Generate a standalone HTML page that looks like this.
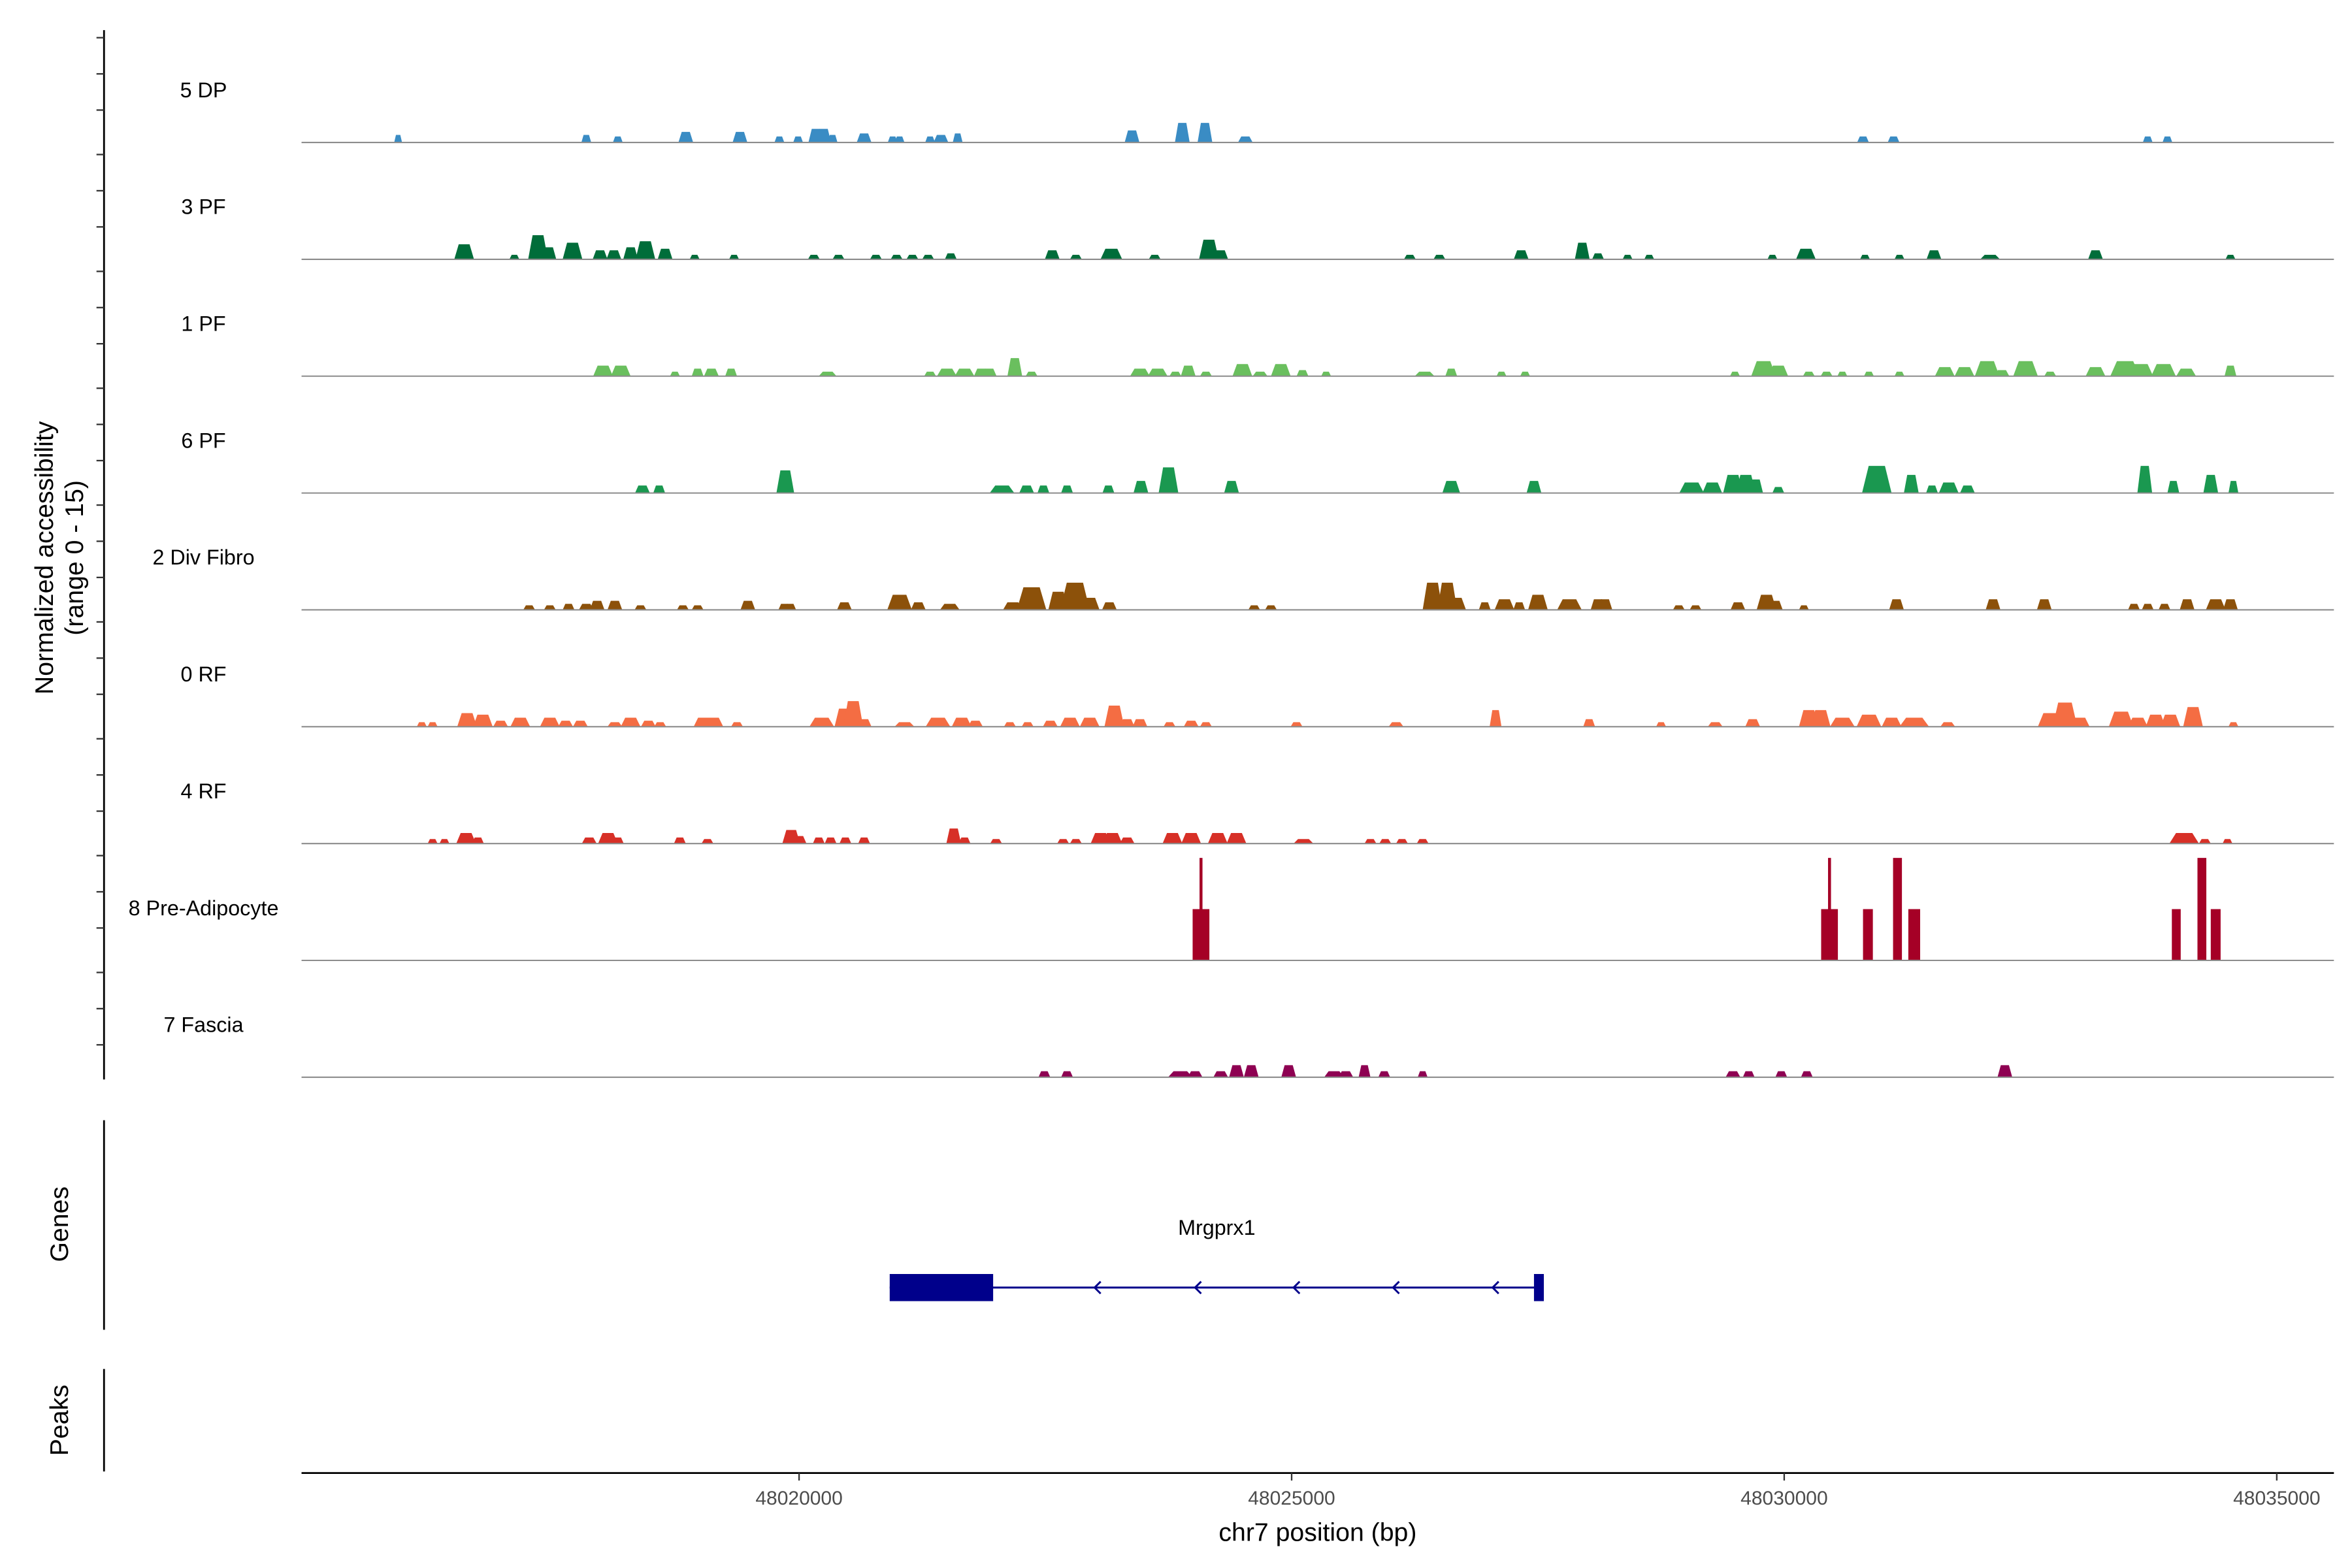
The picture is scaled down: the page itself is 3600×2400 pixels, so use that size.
<!DOCTYPE html>
<html><head><meta charset="utf-8"><style>
html,body{margin:0;padding:0;background:#fff;}
svg{display:block;font-family:"Liberation Sans",Arial,sans-serif;}
</style></head><body>
<svg id="chart" width="3600" height="2400" viewBox="0 0 1560 1040" xmlns="http://www.w3.org/2000/svg">
<g id="tracks"></g>
<g id="axes"></g>
<g id="genes"></g>
</svg>
<script>
// genomic positions in kb offset from chromOffsetKb; heights in normalized accessibility units (0-15)
const chromOffsetKb = 48000;
const trackNames = ["5 DP","3 PF","1 PF","6 PF","2 Div Fibro","0 RF","4 RF","8 Pre-Adipocyte","7 Fascia"];
const trackColors = ["#3a8cc4","#006d3a","#6abf5e","#1a9850","#8c510a","#f46d43","#d73027","#a50026","#8e0152"];
const trackTopRatio = [0.55,0.55,0.55,0.55,0.55,0.55,0.55,1,0.55];
const xTicks = [48020000,48025000,48030000,48035000];
const dp = [[15.93,.08,1],[17.84,.1,1],[18.16,.1,.8],[18.85,.15,1.4],[19.40,.15,1.4],[19.80,.1,.8],[19.99,.1,.8],[20.17,.15,1.8],[20.25,.15,1.8],[20.34,.1,1],[20.66,.15,1.2],[20.95,.1,.8],[21.02,.1,.8],[21.33,.1,.8],[21.44,.15,1],[21.61,.1,1.2],[23.38,.15,1.6],[23.89,.15,2.6],[24.12,.15,2.6],[24.53,.15,.8],[30.80,.12,.8],[31.11,.12,.8],[33.69,.1,.8],[33.89,.1,.8]];
const pf3 = [[16.60,.2,2],[17.11,.1,.6],[17.35,.2,3.2],[17.46,.15,1.6],[17.70,.2,2.2],[17.98,.15,1.2],[18.12,.15,1.2],[18.29,.15,1.6],[18.44,.2,2.4],[18.64,.15,1.4],[18.94,.1,.6],[19.34,.1,.6],[20.15,.12,.6],[20.40,.12,.6],[20.78,.12,.6],[20.99,.12,.6],[21.15,.12,.6],[21.31,.12,.6],[21.54,.12,.8],[22.57,.15,1.2],[22.81,.12,.6],[23.17,.22,1.4],[23.61,.12,.6],[24.16,.2,2.6],[24.28,.15,1.2],[26.20,.12,.6],[26.50,.12,.6],[27.33,.15,1.2],[27.95,.15,2.2],[28.11,.12,.8],[28.41,.1,.6],[28.63,.1,.6],[29.88,.1,.6],[30.22,.2,1.4],[30.82,.1,.6],[31.17,.1,.6],[31.52,.15,1.2],[32.09,.2,.6],[33.16,.15,1.2],[34.53,.1,.6]];
const pf1 = [[18.01,.2,1.4],[18.19,.2,1.4],[18.74,.1,.6],[18.97,.12,1],[19.11,.15,1],[19.31,.12,1],[20.29,.18,.6],[21.33,.12,.6],[21.50,.2,1],[21.68,.2,1],[21.85,.15,1],[21.93,.15,1],[22.19,.15,2.4],[22.36,.12,.6],[23.46,.2,1],[23.64,.2,1],[23.82,.12,.6],[23.95,.15,1.4],[24.13,.12,.6],[24.50,.2,1.6],[24.68,.15,.6],[24.89,.2,1.6],[25.11,.12,.8],[25.35,.1,.6],[26.35,.2,.6],[26.62,.12,1],[27.13,.1,.6],[27.37,.1,.6],[29.50,.1,.6],[29.79,.25,2],[29.94,.2,1.4],[30.25,.12,.6],[30.43,.12,.6],[30.59,.1,.6],[30.86,.1,.6],[31.17,.1,.6],[31.63,.2,1.2],[31.83,.2,1.2],[32.06,.25,2],[32.21,.15,.8],[32.45,.25,2],[32.70,.12,.6],[33.16,.2,1.2],[33.46,.3,2],[33.62,.25,1.6],[33.85,.25,1.6],[34.08,.2,1],[34.53,.12,1.4]];
const pf6 = [[18.41,.15,1],[18.58,.12,1],[19.86,.18,3],[22.06,.25,1],[22.31,.15,1],[22.48,.12,1],[22.72,.12,1],[23.14,.12,1],[23.47,.15,1.6],[23.75,.2,3.4],[24.39,.15,1.6],[26.62,.18,1.6],[27.46,.15,1.6],[29.06,.25,1.4],[29.27,.2,1.4],[29.48,.2,2.4],[29.61,.2,2.4],[29.71,.15,1.8],[29.94,.12,.8],[30.94,.3,3.6],[31.29,.15,2.4],[31.50,.12,1],[31.67,.2,1.4],[31.86,.15,1],[33.66,.15,3.6],[33.95,.12,1.6],[34.33,.15,2.4],[34.56,.1,1.6]];
const divfibro = [[17.26,.12,.6],[17.47,.12,.6],[17.66,.12,.8],[17.84,.15,.8],[17.95,.15,1.2],[18.13,.15,1.2],[18.39,.12,.6],[18.82,.12,.6],[18.97,.12,.6],[19.48,.15,1.2],[19.85,.12,.8],[19.91,.12,.8],[20.46,.15,1],[21.02,.25,2],[21.21,.15,1],[21.53,.2,.8],[22.17,.2,1],[22.36,.3,3],[22.63,.2,2.4],[22.80,.3,3.6],[22.95,.2,1.6],[23.15,.15,1],[24.62,.12,.6],[24.79,.12,.6],[26.43,.2,3.6],[26.58,.2,3.6],[26.67,.2,1.6],[26.96,.12,1],[27.16,.2,1.4],[27.31,.12,1],[27.50,.2,2],[27.82,.25,1.4],[28.11,.15,1.4],[28.18,.15,1.4],[28.93,.12,.6],[29.10,.12,.6],[29.53,.15,1],[29.82,.2,2],[29.91,.15,1.2],[30.20,.1,.6],[31.14,.15,1.4],[32.12,.15,1.4],[32.64,.15,1.4],[33.55,.12,.8],[33.69,.12,.8],[33.86,.12,.8],[34.09,.15,1.4],[34.38,.2,1.4],[34.53,.15,1.4]];
const rf0 = [[16.17,.1,.6],[16.28,.1,.6],[16.63,.2,1.8],[16.79,.2,1.6],[16.97,.15,.8],[17.17,.2,1.2],[17.47,.2,1.2],[17.63,.15,.8],[17.78,.15,.8],[18.13,.15,.6],[18.29,.2,1.2],[18.47,.15,.8],[18.59,.12,.6],[19.03,.2,1.2],[19.13,.2,1.2],[19.37,.12,.6],[20.23,.25,1.2],[20.46,.2,2.4],[20.55,.2,3.4],[20.66,.15,1],[21.07,.2,.6],[21.41,.25,1.2],[21.65,.2,1.2],[21.79,.15,.8],[22.14,.12,.6],[22.32,.12,.6],[22.55,.15,.8],[22.75,.2,1.2],[22.95,.2,1.2],[23.20,.2,2.8],[23.33,.15,1],[23.46,.15,1],[23.76,.12,.6],[23.98,.15,.8],[24.13,.12,.6],[25.05,.12,.6],[26.06,.15,.6],[27.07,.12,2.2],[28.02,.12,1],[28.75,.1,.6],[29.30,.15,.6],[29.68,.15,1],[30.25,.2,2.2],[30.37,.2,2.2],[30.59,.25,1.2],[30.86,.25,1.6],[31.09,.2,1.2],[31.32,.3,1.2],[31.66,.15,.6],[32.70,.25,1.8],[32.85,.25,3.2],[33.00,.2,1.2],[33.42,.25,2],[33.59,.2,1.2],[33.77,.2,1.6],[33.92,.2,1.6],[34.15,.2,2.6],[34.56,.1,.6]];
const rf4 = [[16.28,.1,.6],[16.40,.1,.6],[16.62,.2,1.4],[16.74,.12,.8],[17.87,.15,.8],[18.06,.2,1.4],[18.16,.12,.8],[18.79,.12,.8],[19.07,.12,.6],[19.92,.18,1.8],[20.00,.15,1],[20.20,.12,.8],[20.32,.12,.8],[20.47,.12,.8],[20.66,.12,.8],[21.57,.15,2],[21.68,.12,.8],[22.00,.12,.6],[22.68,.12,.6],[22.81,.12,.6],[23.06,.2,1.4],[23.18,.2,1.4],[23.33,.15,.8],[23.79,.2,1.4],[23.98,.2,1.4],[24.25,.2,1.4],[24.44,.2,1.4],[25.12,.2,.6],[25.80,.12,.6],[25.95,.12,.6],[26.12,.12,.6],[26.33,.12,.6],[34.06,.3,1.4],[34.27,.12,.6],[34.50,.1,.6]];
const preadipo = [[24.08,.17,6.8],[24.08,.03,13.6],[30.46,.17,6.8],[30.46,.03,13.6],[30.85,.1,6.8],[31.15,.09,13.6],[31.32,.12,6.8],[33.98,.09,6.8],[34.24,.09,13.6],[34.38,.1,6.8]];
const fascia = [[22.49,.12,.8],[22.72,.12,.8],[23.87,.25,.8],[24.02,.15,.8],[24.28,.15,.8],[24.44,.15,1.6],[24.59,.15,1.6],[24.97,.15,1.6],[25.43,.2,.8],[25.55,.15,.8],[25.74,.12,1.6],[25.94,.12,.8],[26.33,.1,.8],[29.48,.15,.8],[29.64,.12,.8],[29.97,.12,.8],[30.23,.12,.8],[32.24,.15,1.6]];
const trackData = [dp,pf3,pf1,pf6,divfibro,rf0,rf4,preadipo,fascia];
const geneName = "Mrgprx1";
const geneStartKb = 20.92, geneEndKb = 27.56;
const geneExons = [[20.92,21.97],[27.46,27.56]];
const geneArrows = [23.00,24.02,25.02,26.03,27.04];

const NS="http://www.w3.org/2000/svg";
function mk(tag,attrs,parent){const e=document.createElementNS(NS,tag);for(const k in attrs)e.setAttribute(k,attrs[k]);parent.appendChild(e);return e;}
const xMin=200,xMax=1548;
function xScale(bp){return 530+(bp-48020000)*(326.7/5000);}
function xKb(kb){return xScale((chromOffsetKb+kb)*1000);}
const trackTop=17, trackH=77.5, unitPx=5;
function base(i){return trackTop+trackH*(i+1);}
function yScale(i,h){return base(i)-h*unitPx;}

const tracks=document.getElementById('tracks');
trackNames.forEach((name,i)=>{
  const g=mk('g',{},tracks);
  
  
  const lab=mk('text',{x:135,y:base(i)-30,'text-anchor':'middle','font-size':14,fill:'#000'},g);
  lab.textContent=name;
  
  
  trackData[i].forEach(p=>{
    const c=xKb(p[0]), w=(p[1]*1000)*(326.7/5000), y0=base(i), y1=yScale(i,p[2]);
    const tw=w*trackTopRatio[i];
    const poly=mk('polygon',{points:`${c-w/2},${y0} ${c-tw/2},${y1} ${c+tw/2},${y1} ${c+w/2},${y0}`,fill:trackColors[i]},g);
    
    
  });
  const bl=mk('line',{x1:xMin,x2:xMax,y1:base(i),y2:base(i),stroke:'#8c8c8c','stroke-width':0.9},g);
  
  
});

const axes=document.getElementById('axes');
const yl=mk('line',{x1:69,x2:69,y1:20,y2:716,stroke:'#000','stroke-width':1.2},axes);


for(let i=0;i<9;i++){
  for(let k=0;k<3;k++){
    const y=trackTop+trackH*i+8+k*24;
    const t=mk('line',{x1:64,x2:69,y1:y,y2:y,stroke:'#333','stroke-width':1},axes);
    
    
  }
}
const yt=mk('text',{transform:'translate(35,370) rotate(-90)','text-anchor':'middle','font-size':17},axes);


yt.innerHTML='<tspan x="0" dy="0">Normalized accessibility</tspan><tspan x="0" dy="20">(range 0 - 15)</tspan>';
const gl=mk('line',{x1:69,x2:69,y1:743,y2:882,stroke:'#000','stroke-width':1.2},axes);


const gt=mk('text',{transform:'translate(45,812) rotate(-90)','text-anchor':'middle','font-size':17},axes);
gt.textContent='Genes';


const pl=mk('line',{x1:69,x2:69,y1:908,y2:976,stroke:'#000','stroke-width':1.2},axes);


const pt=mk('text',{transform:'translate(45,942) rotate(-90)','text-anchor':'middle','font-size':17},axes);
pt.textContent='Peaks';


const xl=mk('line',{x1:xMin,x2:xMax,y1:977,y2:977,stroke:'#000','stroke-width':1.2},axes);


xTicks.forEach(v=>{
  const x=xScale(v);
  const t=mk('line',{x1:x,x2:x,y1:977,y2:982,stroke:'#333','stroke-width':1},axes);
  
  
  const l=mk('text',{x:x,y:998,'text-anchor':'middle','font-size':13,fill:'#4d4d4d'},axes);
  l.textContent=String(v);
  
  
});
const xt=mk('text',{x:874,y:1022,'text-anchor':'middle','font-size':17},axes);
xt.textContent='chr7 position (bp)';



const genes=document.getElementById('genes');
const gy=854, navy='#00008b';
const gline=mk('line',{x1:xKb(geneStartKb),x2:xKb(geneEndKb),y1:gy,y2:gy,stroke:navy,'stroke-width':1.3},genes);


geneExons.forEach(e=>{
  const r=mk('rect',{x:xKb(e[0]),y:gy-9,width:xKb(e[1])-xKb(e[0]),height:18,fill:navy},genes);
  
  
});
geneArrows.forEach(a=>{
  const x=xKb(a);
  const p=mk('polyline',{points:`${x+4},${gy-4} ${x},${gy} ${x+4},${gy+4}`,fill:'none',stroke:navy,'stroke-width':1.3},genes);
  
  
});
const gn=mk('text',{x:807,y:819,'text-anchor':'middle','font-size':14},genes);
gn.textContent=geneName;


</script>
</body></html>
